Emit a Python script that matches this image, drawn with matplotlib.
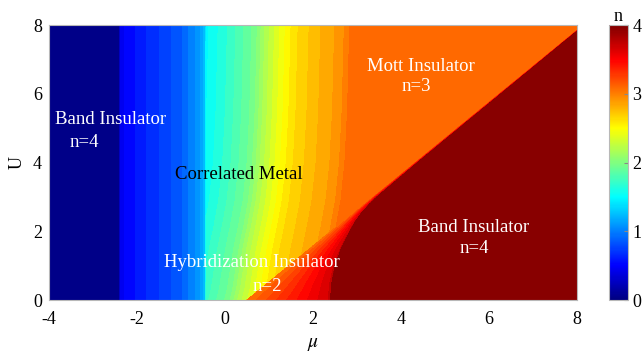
import numpy as np
import matplotlib
matplotlib.use('Agg')
import matplotlib.pyplot as plt
from matplotlib.colors import LinearSegmentedColormap, Normalize
from matplotlib.cm import ScalarMappable

plt.rcParams['font.family'] = ['Liberation Serif', 'DejaVu Serif']
plt.rcParams['mathtext.fontset'] = 'stix'
plt.rcParams['axes.unicode_minus'] = False

# filling n versus mu on the metal / Mott side (large U)
mu_profile = [-4.0, -2.40, -2.38, -1.75, -1.03, -0.57, -0.44, -0.42, 0.11, 0.68, 0.95, 1.32, 1.6, 2.1, 2.65, 2.85, 8.0]
n_profile = [0.0, 0.0, 0.45, 0.65, 0.85, 1.1, 1.25, 1.5, 1.7, 1.95, 2.2, 2.45, 2.62, 2.78, 2.92, 3.05, 3.05]

# contours of the metal bend toward smaller mu at small U
shift_U = [0.0, 0.3, 0.8, 1.45, 2.2, 2.9, 4.0, 5.5, 8.0]
shift_mu = [0.62, 0.56, 0.5, 0.42, 0.3, 0.2, 0.11, 0.05, 0.0]
metal_edge = -0.43

# Mott / band insulator transition line
mott_U = [0.0, 7.85]
mott_mu = [0.5, 8.0]

# width (in mu) of the crossover strip just below the transition line
wedge_U = [0.0, 0.5, 1.0, 1.5, 2.0, 2.25, 2.5, 2.75, 3.0, 4.0, 5.0, 8.0]
wedge_w = [1.9, 1.45, 1.05, 0.71, 0.43, 0.3, 0.2, 0.13, 0.09, 0.06, 0.05, 0.03]
wedge_n = [3.05, 3.7]
band_n = 4.0

# MATLAB style jet
jet_m = LinearSegmentedColormap.from_list('jet_m', [
    (0.0, (0, 0, 0.5)), (1/8, (0, 0, 1)), (3/8, (0, 1, 1)),
    (5/8, (1, 1, 0)), (7/8, (1, 0, 0)), (1.0, (0.5, 0, 0))])

mu = np.linspace(-4, 8, 1201)
U = np.linspace(0, 8, 801)
M, UU = np.meshgrid(mu, U)

line_mu = np.interp(UU, mott_U, mott_mu)
d = M - line_mu
mu_eff = np.where(M > metal_edge, M + np.interp(UU, shift_U, shift_mu), M)
n_upper = np.interp(mu_eff, mu_profile, n_profile)
w = np.interp(UU, wedge_U, wedge_w)
n_lower = np.where(d < w, wedge_n[0] + (wedge_n[1] - wedge_n[0]) * d / w, band_n)
N = np.where(d < 0, n_upper, n_lower)

fig = plt.figure(figsize=(6.44, 3.54), dpi=100)
ax = fig.add_axes([0.0761, 0.1525, 0.8199, 0.7768])
ax.contourf(M, UU, N, levels=np.linspace(0, 4, 51), cmap=jet_m, vmin=0, vmax=4)

ax.set_xlim(-4, 8)
ax.set_ylim(0, 8)
ax.set_xticks(np.arange(-4, 9, 2))
ax.set_yticks(np.arange(0, 9, 2))
ax.tick_params(labelsize=13, length=0)
ax.tick_params(axis='x', pad=8)
ax.tick_params(axis='y', pad=5)
for s in ax.spines.values():
    s.set_color('#b8b8b8')
    s.set_linewidth(0.8)
ax.set_xlabel(r'$\mu$', fontsize=14, labelpad=6)
ax.set_ylabel('U', fontsize=13, labelpad=5)

tkw = dict(fontsize=13.5, ha='center', va='center')
ax.text(-2.6, 5.26, 'Band Insulator', color='white', **tkw)
ax.text(-3.19, 4.58, 'n=4', color='white', **tkw)
ax.text(0.31, 3.65, 'Correlated Metal', color='black', **tkw)
ax.text(4.45, 6.78, 'Mott Insulator', color='white', **tkw)
ax.text(4.35, 6.22, 'n=3', color='white', **tkw)
ax.text(5.64, 2.1, 'Band Insulator', color='white', **tkw)
ax.text(5.66, 1.49, 'n=4', color='white', **tkw)
ax.text(0.61, 1.09, 'Hybridization Insulator', color='white', **tkw)
ax.text(0.96, 0.38, 'n=2', color='white', **tkw)

cax = fig.add_axes([0.9457, 0.1525, 0.0295, 0.7768])
cb = fig.colorbar(ScalarMappable(norm=Normalize(0, 4), cmap=jet_m), cax=cax)
cb.set_ticks([0, 1, 2, 3, 4])
cb.outline.set_edgecolor('#b8b8b8')
cb.outline.set_linewidth(0.8)
cax.tick_params(labelsize=13, direction='in', length=3, color='#888888', pad=3)
cax.set_title('n', fontsize=13, pad=2)

fig.savefig('out.png', dpi=100)
